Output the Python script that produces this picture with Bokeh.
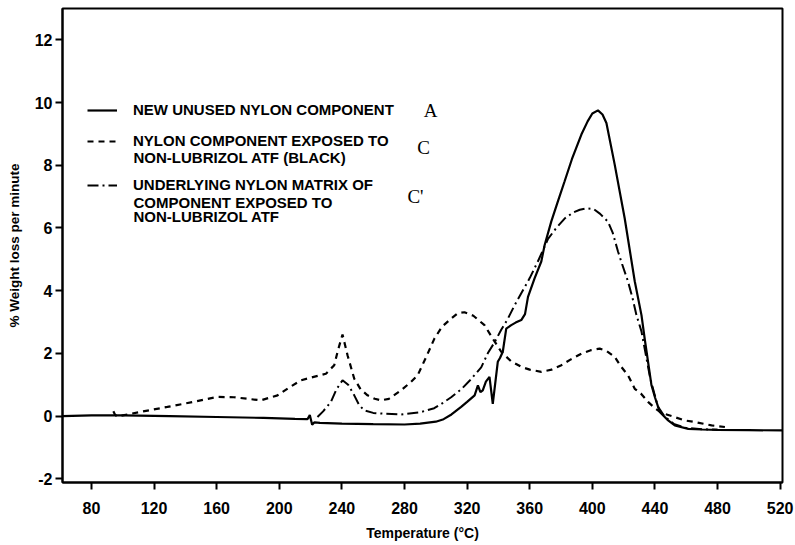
from bokeh.plotting import figure
from bokeh.models import Range1d, FixedTicker, Legend, LegendItem, Label
from bokeh.embed import file_html
from bokeh.resources import INLINE

# ---- data ----
temp_a = [61.5, 80, 100, 130, 160, 190, 210, 218, 219.5, 221, 222.5, 226, 240, 260, 280, 290,
          300, 305, 310, 316.2, 320, 324.8, 326.9, 328.5, 330, 332, 334.3, 336.4, 339.6, 341,
          342.8, 345, 348.2, 351, 354.6, 357, 358.9, 363.1, 367.4, 369.5, 373.8, 378, 382.3,
          387, 393, 397, 400, 403.6, 406.5, 409, 414.3, 420.7, 427.1, 431.4, 433.5, 437.8, 440,
          443.1, 448, 452.7, 461.3, 470, 480, 500, 521.5]
wl_a = [0.0, 0.02, 0.02, 0.0, -0.03, -0.06, -0.09, -0.1, 0.03, -0.28, -0.2, -0.22, -0.24, -0.26,
        -0.27, -0.24, -0.18, -0.1, 0.05, 0.29, 0.45, 0.66, 0.98, 0.76, 0.82, 1.1, 1.25, 0.39,
        1.73, 1.85, 2.05, 2.79, 2.9, 2.98, 3.06, 3.25, 3.8, 4.39, 4.93, 5.45, 6.21, 6.85, 7.49,
        8.2, 8.98, 9.4, 9.65, 9.75, 9.62, 9.35, 8.02, 6.3, 4.3, 3.22, 2.45, 0.98, 0.6, 0.13,
        -0.12, -0.3, -0.41, -0.43, -0.44, -0.45, -0.46]

temp_c = [94, 95, 96.5, 100, 110, 128.5, 145, 160.4, 171, 180, 188.2, 198.9, 206, 213.8, 222,
          229.8, 235.1, 237.5, 240.4, 243.6, 247.9, 252, 256.4, 261, 265, 270, 277.8, 284.2,
          288.4, 294, 299.1, 304, 309.8, 314, 318.3, 324, 331.1, 336, 341.8, 348, 354.6, 360,
          367.4, 374, 380.2, 386, 393, 399, 404.7, 409, 414.3, 418, 422.8, 427.1, 431, 435.6,
          440, 444.2, 450.6, 459.1, 465.5, 476.2, 484.7]
wl_c = [0.15, 0.05, -0.02, 0.02, 0.12, 0.29, 0.45, 0.61, 0.6, 0.55, 0.5, 0.66, 0.9, 1.14, 1.25,
        1.35, 1.62, 2.1, 2.6, 1.94, 1.19, 0.85, 0.66, 0.55, 0.5, 0.55, 0.82, 1.09, 1.3, 1.9,
        2.47, 2.85, 3.11, 3.28, 3.31, 3.2, 2.9, 2.5, 2.05, 1.75, 1.57, 1.48, 1.41, 1.48, 1.62,
        1.8, 1.99, 2.1, 2.15, 2.08, 1.89, 1.6, 1.3, 0.87, 0.72, 0.45, 0.25, 0.1, 0.0, -0.14,
        -0.19, -0.3, -0.35]

temp_cp = [224.4, 228, 233, 236.5, 240.4, 244, 247.9, 251, 254.3, 260, 268, 277.8, 290, 299,
           303.4, 309.8, 316.2, 322, 329, 333.2, 337.5, 341.8, 346, 350, 354.6, 360, 365.2,
           371.7, 377, 382.3, 388, 392, 396.5, 401, 405, 410, 413, 416.4, 419, 422.8, 425.5,
           428.2, 431.4, 434, 437, 441.9, 446, 452, 460, 470, 480]
wl_cp = [-0.03, 0.15, 0.45, 0.85, 1.14, 1.0, 0.66, 0.35, 0.18, 0.1, 0.07, 0.05, 0.12, 0.25,
         0.38, 0.6, 0.85, 1.15, 1.55, 2.0, 2.35, 2.75, 3.1, 3.5, 3.92, 4.4, 4.93, 5.65, 6.0,
         6.3, 6.5, 6.58, 6.63, 6.6, 6.45, 6.2, 5.85, 5.25, 4.85, 4.29, 3.8, 3.22, 2.7, 2.0,
         1.2, 0.3, 0.0, -0.25, -0.38, -0.42, -0.44]

x_ticks = [80, 120, 160, 200, 240, 280, 320, 360, 400, 440, 480, 520]
y_ticks = [-2, 0, 2, 4, 6, 8, 10, 12]
y_tick_labels = {-2: "-2", 0: "0", 2: "2", 4: "4", 6: "6", 8: "8", 10: "10", 12: "12"}

FONT = "Liberation Sans"

p = figure(width=795, height=545, output_backend="svg", toolbar_location=None,
           x_range=Range1d(61.5, 521.5), y_range=Range1d(-2.12, 13.0),
           min_border_left=62, min_border_right=13, min_border_top=8, min_border_bottom=63,
           background_fill_color="white", border_fill_color="white")
p.grid.visible = False
p.outline_line_color = "black"
p.outline_line_width = 2

for ax in (p.xaxis[0], p.yaxis[0]):
    ax.axis_line_width = 2
    ax.major_tick_line_width = 2
    ax.minor_tick_line_color = None
    ax.major_tick_in = 0
    ax.major_tick_out = 7
    ax.major_label_text_font = FONT
    ax.major_label_text_font_style = "bold"
    ax.major_label_text_font_size = "16px"
    ax.major_label_text_color = "black"
    ax.axis_label_text_font = FONT
    ax.axis_label_text_font_style = "bold"
    ax.axis_label_text_color = "black"

p.xaxis[0].ticker = FixedTicker(ticks=x_ticks)
p.yaxis[0].ticker = FixedTicker(ticks=y_ticks)
p.yaxis[0].major_label_overrides = y_tick_labels
p.xaxis[0].axis_label = "Temperature (°C)"
p.yaxis[0].axis_label = "% Weight loss per minute"
p.xaxis[0].axis_label_text_font_size = "14px"
p.yaxis[0].axis_label_text_font_size = "13.5px"
p.xaxis[0].major_label_standoff = 12
p.yaxis[0].major_label_standoff = 3
p.xaxis[0].axis_label_standoff = 8
p.yaxis[0].axis_label_standoff = 10

r_a = p.line(temp_a, wl_a, line_color="black", line_width=2.2)
r_c = p.line(temp_c, wl_c, line_color="black", line_width=2.2, line_dash="6 5")
r_cp = p.line(temp_cp, wl_cp, line_color="black", line_width=2.0, line_dash="11 4 2 4")

# legend: one small legend per entry (first text line), extra lines as labels
def make_legend(renderer, text, y_bottom):
    lg = Legend(items=[LegendItem(label=text, renderers=[renderer])],
                location=(25, y_bottom), padding=0, margin=0, spacing=0,
                glyph_width=30, glyph_height=14, label_height=14, label_standoff=16,
                border_line_alpha=0, background_fill_alpha=0,
                label_text_font=FONT, label_text_font_style="bold",
                label_text_font_size="15px", label_text_color="black")
    p.add_layout(lg)

make_legend(r_a, "NEW UNUSED NYLON COMPONENT", 364)
make_legend(r_c, "NYLON COMPONENT EXPOSED TO", 333)
make_legend(r_cp, "UNDERLYING NYLON MATRIX OF", 289)

extra_lines = [("NON-LUBRIZOL ATF (BLACK)", 325),
               ("COMPONENT EXPOSED TO", 280),
               ("NON-LUBRIZOL ATF", 266)]
for txt, sy in extra_lines:
    p.add_layout(Label(x=71, y=sy, x_units="screen", y_units="screen", text=txt,
                       text_font=FONT, text_font_style="bold", text_font_size="15px",
                       text_color="black", text_baseline="middle", text_align="left"))

for txt, sx, sy in [("A", 368, 372), ("C", 361, 335), ("C'", 353, 286)]:
    p.add_layout(Label(x=sx, y=sy, x_units="screen", y_units="screen", text=txt,
                       text_font="Liberation Serif", text_font_size="19px",
                       text_color="black", text_baseline="middle", text_align="center"))

open("out.html", "w").write(file_html(p, INLINE))
